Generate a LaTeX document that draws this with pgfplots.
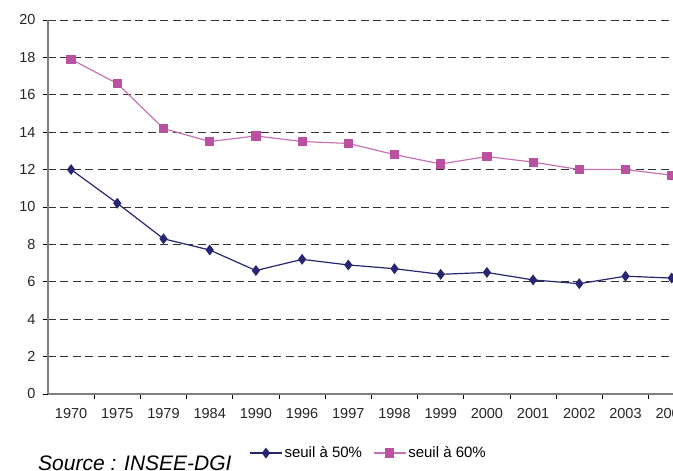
\documentclass[border=0pt]{standalone}
\usepackage{pgfplots}
\pgfplotsset{compat=1.18}
\usepackage{fontspec}
\setmainfont{Liberation Sans}
\definecolor{navy}{RGB}{38,38,115}
\definecolor{mag}{RGB}{185,80,160}
\definecolor{axgray}{RGB}{128,128,128}
\begin{document}
\begin{tikzpicture}
\begin{scope}
\clip (-48pt,-77pt) rectangle (625pt,394pt);
\begin{axis}[
  at={(0pt,0pt)}, anchor=south west,
  scale only axis,
  width=646.8pt, height=374pt,
  xmin=-0.5, xmax=13.5,
  ymin=0, ymax=20,
  axis lines*=left,
  axis line style={axgray, line width=1.2pt},
  xtick={0,...,13},
  xticklabels={1970,1975,1979,1984,1990,1996,1997,1998,1999,2000,2001,2002,2003,2004},
  minor xtick={0.5,1.5,...,13.5},
  major x tick style={draw=none},
  minor x tick style={black, line width=0.8pt},
  ytick={0,2,...,20},
  y tick style={black, line width=0.8pt},
  tick align=outside,
  major tick length=5pt, minor tick length=5pt,
  ymajorgrids,
  major grid style={black!80, dash pattern=on 8pt off 4.5pt, line width=0.8pt},
  ticklabel style={font=\fontsize{14.5}{16}\selectfont, text=black!85},
  xticklabel style={yshift=-6pt},
  yticklabel style={xshift=-4pt},
  /pgf/number format/assume math mode=true,
  legend columns=2,
  legend style={at={(0.3110,-0.158)}, anchor=west, draw=none, fill=none,
    font=\fontsize{15}{17}\selectfont, inner sep=0pt,
    /tikz/every even column/.append style={column sep=9pt}},
  legend cell align=left,
  legend image code/.code={\draw[mark repeat=2,mark phase=2] plot coordinates {(0pt,0pt)(16pt,0pt)(32pt,0pt)};},
  clip=false,
]
\addplot[navy, line width=1.2pt, mark=diamond*, mark size=4.5pt, mark options={solid, fill=navy}] coordinates {
(0,12.0)(1,10.2)(2,8.3)(3,7.7)(4,6.6)(5,7.2)(6,6.9)(7,6.7)(8,6.4)(9,6.5)(10,6.1)(11,5.9)(12,6.3)(13,6.2)};
\addlegendentry{seuil à 50\%}
\addplot[mag!80, line width=1.2pt, mark=square*, mark size=4pt, mark options={solid, fill=mag, draw=mag}] coordinates {
(0,17.9)(1,16.6)(2,14.2)(3,13.5)(4,13.8)(5,13.5)(6,13.4)(7,12.8)(8,12.3)(9,12.7)(10,12.4)(11,12.0)(12,12.0)(13,11.7)};
\addlegendentry{seuil à 60\%}
\end{axis}
\node[anchor=base west, inner sep=0pt, font=\fontsize{21}{24}\selectfont\itshape] at (-10pt,-77pt) {Source : INSEE-DGI};
\end{scope}
\pgfresetboundingbox
\path[use as bounding box] (-48pt,-77pt) rectangle (625pt,394pt);
\end{tikzpicture}
\end{document}
